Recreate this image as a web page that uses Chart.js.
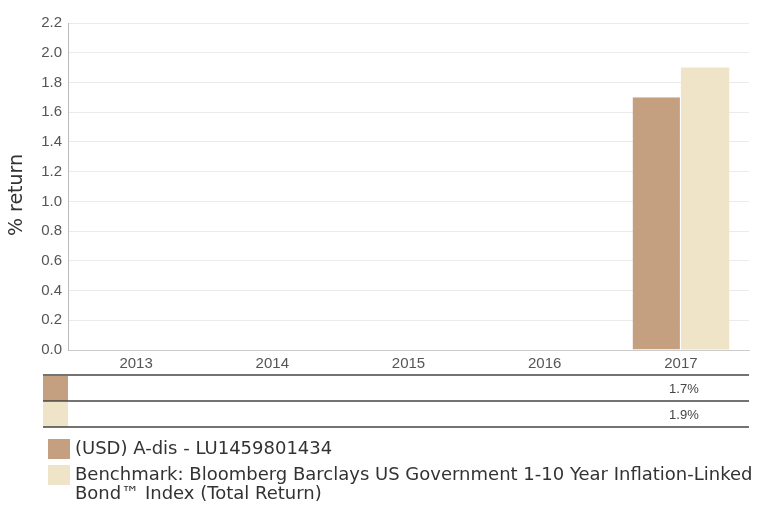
<!DOCTYPE html>
<html>
<head>
<meta charset="utf-8">
<script src="https://cdn.jsdelivr.net/npm/chart.js@4.4.1/dist/chart.umd.min.js"></script>
<style>
  html, body { margin: 0; padding: 0; background: #fff; }
  #wrap { position: relative; width: 759px; height: 505px; }
  #legend { position: absolute; left: 48px; top: 438px; width: 711px; font-family: "DejaVu Sans", sans-serif; font-size: 18px; color: #333; line-height: 19px; }
  .item { position: relative; padding-left: 27px; margin-bottom: 7px; }
  .sw { position: absolute; left: 0; top: 1px; width: 22px; height: 20px; }
</style>
</head>
<body>
<div id="wrap">
  <canvas id="chart" width="759" height="505"></canvas>
  <div id="legend"></div>
</div>
<script>
const years = ["2013", "2014", "2015", "2016", "2017"];
const fundValues = [null, null, null, null, 1.7];
const benchValues = [null, null, null, null, 1.9];
const fundLabel = "(USD) A-dis - LU1459801434";
const benchLabel = "Benchmark: Bloomberg Barclays US Government 1-10 Year Inflation-Linked Bond™ Index (Total Return)";
const yTitle = "% return";
const fundColor = "#c4a080";
const benchColor = "#efe3c8";
const tickFont = "'Liberation Sans', Arial, sans-serif";

// y title and table of yearly values under the axis
const tablePlugin = {
  id: "valueTable",
  afterDraw(chart) {
    const c = chart.ctx;
    const area = chart.chartArea;
    const x = chart.scales.x;
    c.save();
    c.translate(17, 195);
    c.rotate(-Math.PI / 2);
    c.font = "19px 'DejaVu Sans', sans-serif";
    c.fillStyle = "#333";
    c.textAlign = "center";
    c.textBaseline = "middle";
    c.fillText(yTitle, 0, 0);
    c.restore();

    const top = area.bottom + 25;
    const rowH = 26;
    const rows = [[fundValues, fundColor], [benchValues, benchColor]];
    c.save();
    rows.forEach(([vals, color], r) => {
      const y0 = top + r * rowH;
      c.fillStyle = color;
      c.fillRect(43, y0 + 1, 25, rowH - 1);
      c.font = "13px " + tickFont;
      c.fillStyle = "#444";
      c.textAlign = "center";
      c.textBaseline = "middle";
      vals.forEach((v, i) => {
        if (v !== null) c.fillText(v.toFixed(1) + "%", x.getPixelForValue(i) + 3, y0 + rowH / 2 + 1);
      });
    });
    c.strokeStyle = "#444";
    c.lineWidth = 1.5;
    for (let r = 0; r <= rows.length; r++) {
      const y = top + r * rowH;
      c.beginPath();
      c.moveTo(43, y);
      c.lineTo(area.right, y);
      c.stroke();
    }
    c.restore();
  }
};

new Chart(document.getElementById("chart"), {
  type: "bar",
  data: {
    labels: years,
    datasets: [
      { label: fundLabel, data: fundValues, backgroundColor: fundColor, borderColor: "#fff", borderWidth: { right: 1 }, categoryPercentage: 0.71, barPercentage: 1 },
      { label: benchLabel, data: benchValues, backgroundColor: benchColor, categoryPercentage: 0.71, barPercentage: 1 }
    ]
  },
  options: {
    responsive: false,
    animation: false,
    layout: { padding: { top: 23, right: 10, bottom: 131, left: 0 } },
    plugins: { legend: { display: false }, tooltip: { enabled: false } },
    scales: {
      x: {
        grid: { display: false },
        border: { color: "#ccc" },
        ticks: { color: "#555", font: { family: tickFont, size: 15 }, padding: -3 },
        afterFit(s) { s.height = 24; }
      },
      y: {
        min: 0,
        max: 2.2,
        ticks: { stepSize: 0.2, color: "#555", padding: 6, font: { family: tickFont, size: 15 }, callback: v => v.toFixed(1) },
        grid: { color: "#ebebeb", drawTicks: false },
        border: { color: "#bbb" },
        afterFit(s) { s.width = 68; }
      }
    }
  },
  plugins: [tablePlugin]
});

const legendEl = document.getElementById("legend");
[[fundLabel, fundColor], [benchLabel, benchColor]].forEach(([label, color]) => {
  const item = document.createElement("div");
  item.className = "item";
  const sw = document.createElement("span");
  sw.className = "sw";
  sw.style.background = color;
  item.appendChild(sw);
  item.appendChild(document.createTextNode(label));
  legendEl.appendChild(item);
});
</script>
</body>
</html>
